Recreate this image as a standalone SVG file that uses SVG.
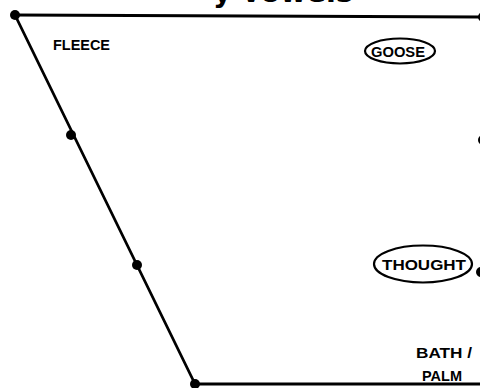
<svg xmlns="http://www.w3.org/2000/svg" width="480" height="388" viewBox="0 0 480 388">
<style>
.edge{stroke:#000;stroke-width:2.8;fill:none;stroke-linecap:round}
.dot{fill:#000}
.lbl{font-family:"Liberation Sans","DejaVu Sans",sans-serif;font-weight:bold;font-size:14px;fill:#000}
.ring{fill:none;stroke:#000;stroke-width:2.2}
.title{font-family:"DejaVu Sans","Liberation Sans",sans-serif;font-weight:bold;font-size:28px;fill:#000}
</style>
<rect width="480" height="388" fill="#fff"/>
<text class="title" x="213" y="2" textLength="140" lengthAdjust="spacingAndGlyphs">y vowels</text>
<g id="connectors">
<line class="edge" x1="15" y1="15" x2="482" y2="17"/>
<line class="edge" x1="15" y1="15" x2="195" y2="384"/>
<line class="edge" x1="195" y1="384" x2="482" y2="384"/>
</g>
<g id="v-front-close"><circle class="dot" cx="15" cy="15" r="5"/></g>
<g id="v-front-closemid"><circle class="dot" cx="71" cy="135" r="5"/></g>
<g id="v-front-openmid"><circle class="dot" cx="137" cy="265" r="5"/></g>
<g id="v-front-open"><circle class="dot" cx="195" cy="384" r="5"/></g>
<g id="v-back-close"><circle class="dot" cx="483" cy="17" r="5"/></g>
<g id="v-back-closemid"><circle class="dot" cx="483" cy="140" r="5"/></g>
<g id="v-back-openmid"><circle class="dot" cx="481" cy="272" r="5"/></g>
<g id="fleece"><text class="lbl" x="53" y="50" textLength="57" lengthAdjust="spacingAndGlyphs">FLEECE</text></g>
<g id="goose"><ellipse class="ring" cx="400" cy="51" rx="35" ry="12.5"/><text class="lbl" x="371" y="57" textLength="54" lengthAdjust="spacingAndGlyphs">GOOSE</text></g>
<g id="thought"><ellipse class="ring" cx="423" cy="264" rx="49" ry="18.5"/><text class="lbl" x="382" y="270" textLength="84" lengthAdjust="spacingAndGlyphs">THOUGHT</text></g>
<g id="bath-palm"><text class="lbl" x="416" y="358" textLength="56" lengthAdjust="spacingAndGlyphs">BATH /</text><text class="lbl" x="422" y="381" textLength="40" lengthAdjust="spacingAndGlyphs">PALM</text></g>
</svg>
